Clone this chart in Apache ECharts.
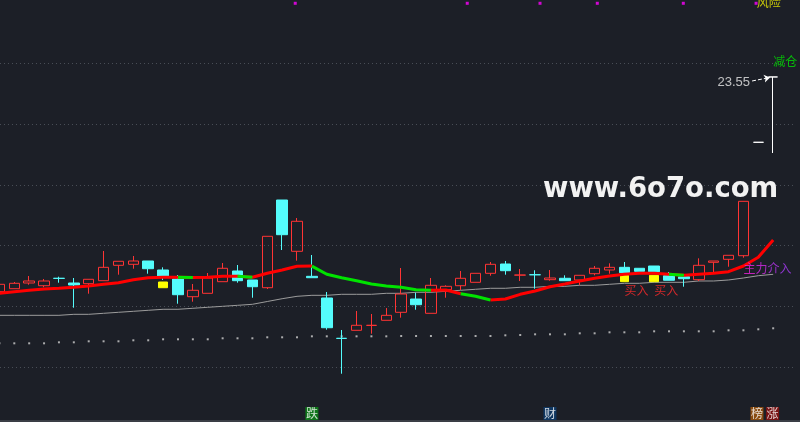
<!DOCTYPE html>
<html><head><meta charset="utf-8">
<script src="https://cdn.jsdelivr.net/npm/echarts@6.0.0/dist/echarts.min.js"></script>
<style>html,body{margin:0;padding:0;background:#1c1f27;}#c{width:800px;height:422px;}</style>
</head><body><div id="c"></div>
<script>
// ---- data ----
const slotCount = 54;
const categories = Array.from({length: slotCount}, (_, i) => 'D' + (i + 1));
// [open, close, low, high]
const candles = [
 [16.487,16.730,16.487,16.730],[16.585,16.763,16.585,16.806],[16.773,16.839,16.717,17.003],
 [16.684,16.839,16.632,16.904],[16.928,16.925,16.783,16.980],[16.773,16.707,15.960,16.937],
 [16.750,16.895,16.421,16.895],[16.849,17.289,16.849,17.826],[17.355,17.487,17.046,17.487],
 [17.388,17.497,17.243,17.661],[17.497,17.243,17.079,17.497],[17.201,16.993,16.872,17.289],
 [16.904,16.388,16.092,17.036],[16.322,16.533,16.158,16.740],[16.434,16.937,16.434,17.102],
 [16.816,17.257,16.816,17.431],[17.168,16.849,16.783,17.365],[16.872,16.651,16.289,16.872],
 [16.618,18.309,16.575,18.309],[19.503,18.362,17.858,19.503],[17.816,18.803,17.507,18.911],
 [16.993,16.947,16.947,17.694],[16.280,15.302,15.237,16.477],[14.954,14.950,13.789,15.227],
 [15.217,15.382,15.217,15.852],[15.378,15.382,15.105,15.753],[15.546,15.710,15.546,15.950],
 [15.809,16.411,15.632,17.266],[16.246,16.059,15.895,16.454],[15.776,16.697,15.776,16.937],
 [16.553,16.664,16.289,16.697],[16.684,16.928,16.543,17.168],[16.796,17.092,16.796,17.092],
 [17.092,17.388,17.013,17.464],[17.398,17.178,17.046,17.497],[17.032,17.036,16.839,17.233],
 [17.046,17.042,16.585,17.191],[16.882,16.937,16.849,17.201],[16.928,16.849,16.849,17.026],
 [16.872,17.026,16.707,17.026],[17.079,17.257,17.026,17.332],[17.201,17.289,17.079,17.421],
 [17.289,17.112,17.112,17.464],[17.257,17.158,17.158,17.257],[17.332,17.145,17.145,17.332],
 [17.013,16.862,16.862,17.135],[16.980,16.914,16.651,16.980],[16.882,17.355,16.839,17.585],
 [17.454,17.497,17.135,17.497],[17.552,17.684,17.309,17.684],[17.671,19.460,17.605,19.460]
];
// trend line (thick red/green)
const trendLine = [16.434,16.487,16.533,16.575,16.599,16.632,16.674,16.730,16.783,16.882,
 16.947,16.960,16.960,16.955,16.960,16.993,16.993,16.960,17.092,17.201,
 17.322,17.330,17.059,16.947,16.849,16.740,16.674,16.632,16.553,16.533,
 16.543,16.421,16.335,16.214,16.246,16.401,16.510,16.651,16.740,16.839,
 16.928,17.003,17.059,17.092,17.092,17.059,17.026,17.059,17.092,17.145,
 17.332,17.618,18.187];
// 1 = red segment (i -> i+1), 0 = green segment
const trendUp = [1,1,1,1,1,1,1,1,1,1, 1,1,0,1,1,1,0,1,1,1, 1,0,0,0,0,0,0,0,0,1,
 1,0,0,1,1,1,1,1,1,1, 1,1,1,1,1,0,1,1,1,1, 1,1];
const longLine = [15.710,15.710,15.710,15.710,15.710,15.743,15.743,15.776,15.809,15.842,
 15.875,15.908,15.908,15.941,15.974,16.006,16.039,16.072,16.164,16.256,
 16.335,16.368,16.368,16.401,16.401,16.401,16.434,16.434,16.467,16.467,
 16.500,16.533,16.566,16.599,16.599,16.632,16.632,16.664,16.664,16.697,
 16.697,16.730,16.763,16.763,16.796,16.796,16.796,16.839,16.839,16.872,
 16.937,17.013,17.059];
const dotLine = [14.789,14.789,14.789,14.789,14.822,14.822,14.855,14.855,14.855,14.888,
 14.888,14.921,14.921,14.921,14.921,14.954,14.954,14.954,14.987,14.987,
 14.987,15.019,15.019,15.019,15.019,15.019,15.019,15.029,15.029,15.029,
 15.029,15.029,15.029,15.029,15.052,15.062,15.085,15.085,15.085,15.118,
 15.118,15.151,15.151,15.151,15.184,15.184,15.184,15.184,15.184,15.217,
 15.217,15.250,15.283];
const yellowSlots = [11, 42, 44];
const yellowLow = [16.618, 16.816, 16.816];
const yellowHigh = [16.806, 17.026, 17.026];
// white marks at the right end: [slot, open, close, low, high]
const whiteMarks = [[51, 21.401, 21.402, 21.401, 21.401],[52, 23.55, 23.551, 21.049, 23.55]];
const topSquares = [19.88, 31.44, 36.33, 40.18, 45.96, 50.85];
const topSquareLevel = 25.974;
const buyText = [[42, 16.533, '买入'], [44, 16.533, '买入']];
const mainText = [50, 17.243];
const reduceText = [52, 24.066, '减仓'];
const riskText = [50.89, 25.99, '风险'];
const peakLabel = [50.44, 23.375, '23.55'];
const peakArrow = [[50.58, 23.418], [51.79, 23.533]];
const badgeLevel = 12.48;
const badges = [[21, '跌'], [37, '财'], [50.91, '榜'], [51.96, '涨']];
const watermark = 'www.6o7o.com';

// ---- build ----
const redSeg = new Array(slotCount).fill('-');
const greenSeg = new Array(slotCount).fill('-');
for (let i = 0; i < trendUp.length; i++) {
  const t = trendUp[i] ? redSeg : greenSeg;
  t[i] = trendLine[i]; t[i + 1] = trendLine[i + 1];
}
const pad = (arr) => categories.map((_, i) => i < arr.length ? arr[i] : '-');
const yellowData = categories.map(() => ['-','-','-','-']);
yellowSlots.forEach((s, k) => { yellowData[s] = [yellowLow[k], yellowHigh[k], yellowLow[k], yellowHigh[k]]; });
const whiteData = categories.map(() => ['-','-','-','-']);
whiteMarks.forEach(m => { whiteData[m[0]] = m.slice(1); });
const candleData = categories.map((_, i) => i < candles.length ? candles[i] : ['-','-','-','-']);

const RED = '#ff3434', CYAN = '#54fcfc';
const cjk = '"Noto Sans CJK SC", sans-serif';
const badgeColors = ['#0b8a16', '#0e3d70', '#a5570c', '#8e1010'];

const chart = echarts.init(document.getElementById('c'), null, {renderer: 'canvas'});
chart.setOption({
  backgroundColor: '#1c1f27',
  animation: false,
  grid: {left: -8.02, width: 803.52, top: 2.5, height: 425.6, containLabel: false, outerBoundsMode: 'none'},
  xAxis: [
    {type: 'category', data: categories, boundaryGap: true, show: false},
    {type: 'value', min: -0.5, max: slotCount - 0.5, show: false}
  ],
  yAxis: {
    type: 'value', min: 12, max: 26, interval: 2, scale: true,
    axisLine: {show: false}, axisTick: {show: false}, axisLabel: {show: false},
    splitLine: {show: true, showMaxLine: false, showMinLine: false,
      lineStyle: {color: '#4b4f58', width: 1, type: [1, 3]}}
  },
  graphic: [
    {type: 'rect', shape: {x: 0, y: 420, width: 800, height: 2}, style: {fill: '#3a3d45'}, z: 1},
    {type: 'text', x: 543, y: 190, z: 20,
     style: {text: watermark, fill: '#f2f2f2', font: 'bold 27.5px "DejaVu Sans"', verticalAlign: 'middle', align: 'left'}}
  ],
  series: [
    {type: 'line', data: pad(longLine), showSymbol: false, symbol: 'none',
     lineStyle: {color: '#9c9c9c', width: 1}, z: 2},
    {type: 'scatter', data: pad(dotLine), symbol: 'rect', symbolSize: 2,
     itemStyle: {color: '#cfcfcf'}, z: 2},
    {type: 'candlestick', data: candleData, barWidth: 11, z: 3,
     itemStyle: {color: 'transparent', color0: CYAN, borderColor: RED, borderColor0: CYAN, borderWidth: 1}},
    {type: 'candlestick', data: yellowData, barWidth: 9, z: 3,
     itemStyle: {color: '#ffff00', color0: '#ffff00', borderColor: '#ffff00', borderColor0: '#ffff00', borderWidth: 1}},
    {type: 'candlestick', data: whiteData, barWidth: 10, z: 3,
     itemStyle: {color: '#ffffff', color0: '#ffffff', borderColor: '#ffffff', borderColor0: '#ffffff', borderWidth: 1}},
    {type: 'line', data: redSeg, showSymbol: false, symbol: 'none', connectNulls: false,
     lineStyle: {color: '#ff0000', width: 3}, z: 5},
    {type: 'line', data: greenSeg, showSymbol: false, symbol: 'none', connectNulls: false,
     lineStyle: {color: '#00e400', width: 3}, z: 5},
    {type: 'scatter', xAxisIndex: 1, data: topSquares.map(x => [x, topSquareLevel]),
     symbol: 'rect', symbolSize: 3, itemStyle: {color: '#ff00ff'}, z: 6},
    {type: 'lines', coordinateSystem: 'cartesian2d', xAxisIndex: 1, z: 6,
     symbol: ['none', 'arrow'], symbolSize: 6,
     lineStyle: {color: '#ffffff', width: 1, type: [4, 2], opacity: 1},
     data: [{coords: peakArrow}]},
    // texts
    {type: 'scatter', xAxisIndex: 1, symbolSize: 0, z: 10,
     data: buyText.map(t => ({value: [t[0], t[1]], name: t[2]})),
     label: {show: true, position: 'right', distance: 0, formatter: p => p.name,
       color: '#ff2a2a', fontSize: 12, fontFamily: cjk}},
    {type: 'scatter', xAxisIndex: 1, symbolSize: 0, z: 10,
     data: [{value: mainText, name: '主力介入'}],
     label: {show: true, position: 'right', distance: 0, fontSize: 12, fontFamily: cjk,
       formatter: '{a|主}{b|力}{c|介}{d|入}',
       rich: {a: {color: '#f020e0', fontSize: 12, fontFamily: cjk}, b: {color: '#d82aec', fontSize: 12, fontFamily: cjk},
              c: {color: '#bb34f0', fontSize: 12, fontFamily: cjk}, d: {color: '#a83af4', fontSize: 12, fontFamily: cjk}}}},
    {type: 'scatter', xAxisIndex: 1, symbolSize: 0, z: 10,
     data: [{value: [reduceText[0], reduceText[1]], name: reduceText[2]}],
     label: {show: true, position: 'right', distance: 0, formatter: p => p.name,
       color: '#00e000', fontSize: 12, fontFamily: cjk}},
    {type: 'scatter', xAxisIndex: 1, symbolSize: 0, z: 10,
     data: [{value: [riskText[0], riskText[1]], name: riskText[2]}],
     label: {show: true, position: 'right', distance: 0, formatter: p => p.name,
       color: '#f0f000', fontSize: 12, fontFamily: cjk}},
    {type: 'scatter', xAxisIndex: 1, symbolSize: 0, z: 10,
     data: [{value: [peakLabel[0], peakLabel[1]], name: peakLabel[2]}],
     label: {show: true, position: 'left', distance: 0, formatter: p => p.name,
       color: '#eaeaea', fontSize: 13, fontFamily: '"Liberation Sans", sans-serif'}},
    {type: 'scatter', xAxisIndex: 1, symbolSize: 0, z: 10,
     data: badges.map((b, k) => ({value: [b[0], badgeLevel], name: b[1],
       label: {backgroundColor: badgeColors[k]}})),
     label: {show: true, position: 'inside', formatter: p => p.name, color: '#ffffff',
       fontSize: 12, fontFamily: cjk, width: 13, height: 13, lineHeight: 13, align: 'center', verticalAlign: 'middle'}}
  ]
});
</script></body></html>
